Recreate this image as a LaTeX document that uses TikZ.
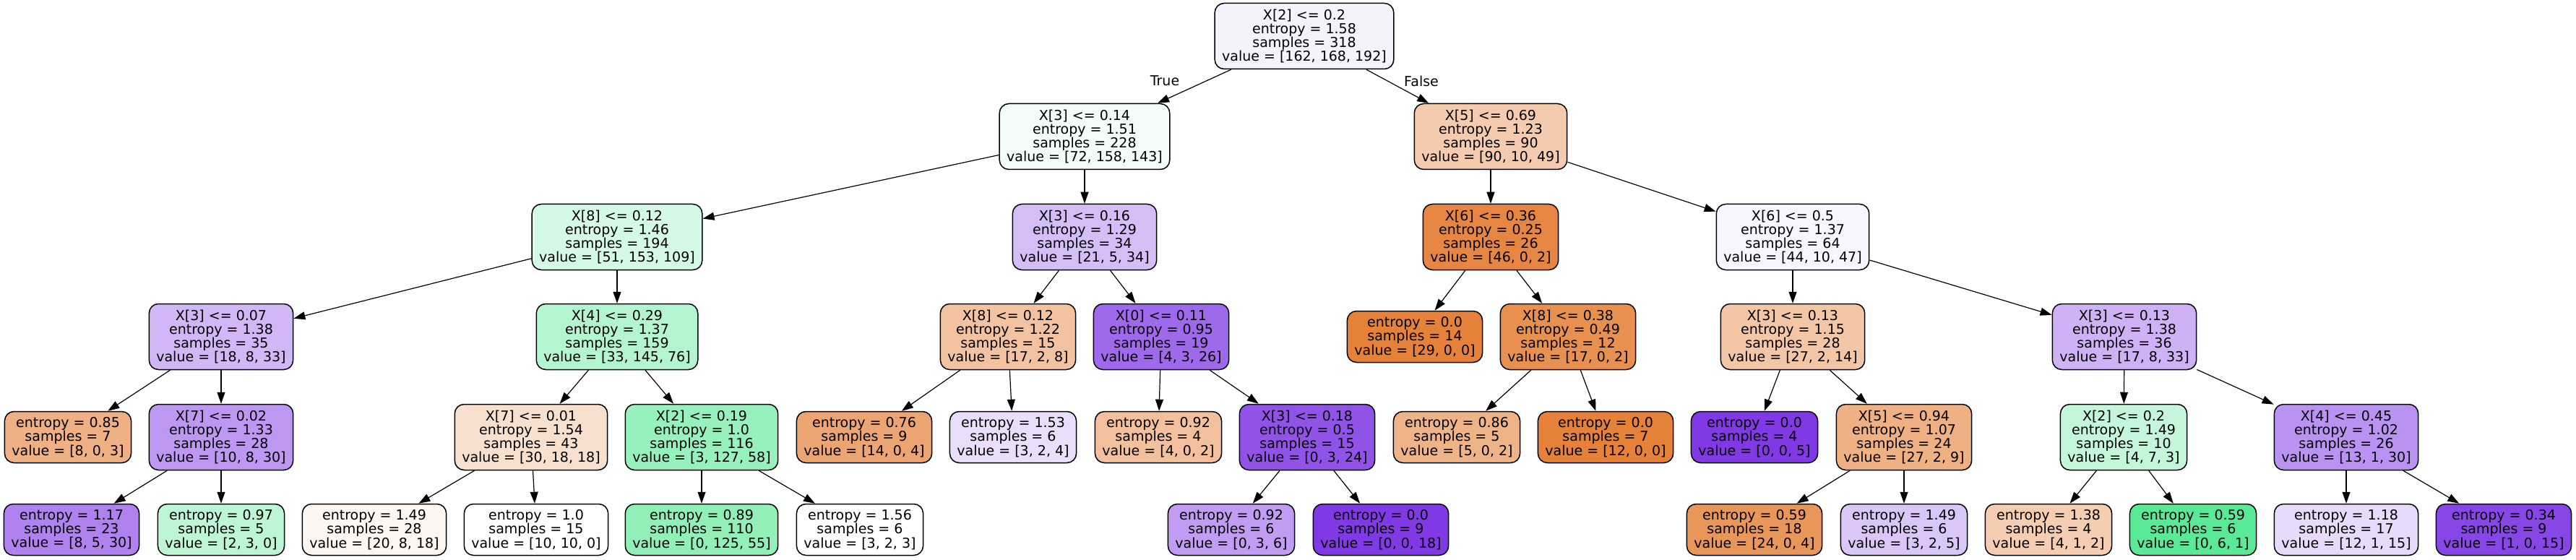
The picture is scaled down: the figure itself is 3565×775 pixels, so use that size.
\documentclass[tikz,border=0pt]{standalone}
\usepackage{fontspec}
\setmainfont{DejaVu Sans}
\usetikzlibrary{arrows.meta}
\newcommand\fnt{\fontsize{9.5pt}{9.6pt}\selectfont}
\definecolor{cr}{RGB}{246,242,253}
\definecolor{ca}{RGB}{242,253,247}
\definecolor{cb}{RGB}{244,203,174}
\definecolor{cc}{RGB}{212,249,228}
\definecolor{cd}{RGB}{213,189,246}
\definecolor{ce}{RGB}{230,134,66}
\definecolor{cf}{RGB}{248,245,254}
\definecolor{cg}{RGB}{209,183,246}
\definecolor{ch}{RGB}{178,245,206}
\definecolor{ci}{RGB}{243,195,161}
\definecolor{cj}{RGB}{159,105,235}
\definecolor{corange}{RGB}{229,129,57}
\definecolor{cpurple}{RGB}{129,57,229}
\definecolor{cl}{RGB}{232,144,80}
\definecolor{cm}{RGB}{243,198,166}
\definecolor{cn}{RGB}{206,178,245}
\definecolor{cga}{RGB}{239,176,131}
\definecolor{cgb}{RGB}{189,151,241}
\definecolor{cha}{RGB}{248,224,206}
\definecolor{chb}{RGB}{150,241,188}
\definecolor{cia}{RGB}{236,165,114}
\definecolor{cib}{RGB}{234,222,251}
\definecolor{cja}{RGB}{242,192,156}
\definecolor{cjb}{RGB}{145,82,232}
\definecolor{cla}{RGB}{239,179,136}
\definecolor{cmb}{RGB}{239,177,132}
\definecolor{cna}{RGB}{196,247,217}
\definecolor{cnb}{RGB}{186,146,241}
\definecolor{cgba}{RGB}{176,130,239}
\definecolor{cgbb}{RGB}{189,246,213}
\definecolor{chaa}{RGB}{253,246,241}
\definecolor{chba}{RGB}{144,240,184}
\definecolor{cjba}{RGB}{192,156,242}
\definecolor{cmba}{RGB}{233,150,90}
\definecolor{cmbb}{RGB}{219,198,248}
\definecolor{cnaa}{RGB}{245,205,176}
\definecolor{cnab}{RGB}{90,233,150}
\definecolor{cnba}{RGB}{231,218,250}
\definecolor{cnbb}{RGB}{137,70,231}
\tikzset{
  tn/.style={draw=black, line width=0.75pt, rounded corners=6.5pt, align=center,
    inner xsep=5pt, inner ysep=0pt, minimum height=45.5pt, font=\fnt},
  lf/.style={tn, minimum height=35.5pt},
  ed/.style={-{Triangle[length=8pt,width=5.5pt]}, line width=0.6pt},
  el/.style={font=\fnt, inner sep=0pt},
}
\begin{document}
\begin{tikzpicture}[x=0.5pt,y=-0.5pt]
\useasboundingbox (0,0) rectangle (3565,775);
\fill[white] (0,0) rectangle (3565,775);
% row 0
\node[tn,fill=cr] (r) at (1805,50) {X[2] <= 0.2\\entropy = 1.58\\samples = 318\\value = [162, 168, 192]};
% row 1
\node[tn,fill=ca] (a) at (1501,189) {X[3] <= 0.14\\entropy = 1.51\\samples = 228\\value = [72, 158, 143]};
\node[tn,fill=cb] (b) at (2063,189) {X[5] <= 0.69\\entropy = 1.23\\samples = 90\\value = [90, 10, 49]};
% row 2
\node[tn,fill=cc] (c) at (854,328) {X[8] <= 0.12\\entropy = 1.46\\samples = 194\\value = [51, 153, 109]};
\node[tn,fill=cd] (d) at (1501,328) {X[3] <= 0.16\\entropy = 1.29\\samples = 34\\value = [21, 5, 34]};
\node[tn,fill=ce] (e) at (2063,328) {X[6] <= 0.36\\entropy = 0.25\\samples = 26\\value = [46, 0, 2]};
\node[tn,fill=cf] (f) at (2481,328) {X[6] <= 0.5\\entropy = 1.37\\samples = 64\\value = [44, 10, 47]};
% row 3
\node[tn,fill=cg] (g) at (306,466) {X[3] <= 0.07\\entropy = 1.38\\samples = 35\\value = [18, 8, 33]};
\node[tn,fill=ch] (h) at (854,466) {X[4] <= 0.29\\entropy = 1.37\\samples = 159\\value = [33, 145, 76]};
\node[tn,fill=ci] (i) at (1395,466) {X[8] <= 0.12\\entropy = 1.22\\samples = 15\\value = [17, 2, 8]};
\node[tn,fill=cj] (j) at (1607,466) {X[0] <= 0.11\\entropy = 0.95\\samples = 19\\value = [4, 3, 26]};
\node[lf,fill=corange] (k) at (1958,466) {entropy = 0.0\\samples = 14\\value = [29, 0, 0]};
\node[tn,fill=cl] (l) at (2170,466) {X[8] <= 0.38\\entropy = 0.49\\samples = 12\\value = [17, 0, 2]};
\node[tn,fill=cm] (m) at (2481,466) {X[3] <= 0.13\\entropy = 1.15\\samples = 28\\value = [27, 2, 14]};
\node[tn,fill=cn] (n) at (2940,466) {X[3] <= 0.13\\entropy = 1.38\\samples = 36\\value = [17, 8, 33]};
% row 4
\node[lf,fill=cga] (ga) at (94,605) {entropy = 0.85\\samples = 7\\value = [8, 0, 3]};
\node[tn,fill=cgb] (gb) at (306,605) {X[7] <= 0.02\\entropy = 1.33\\samples = 28\\value = [10, 8, 30]};
\node[tn,fill=cha] (ha) at (735,605) {X[7] <= 0.01\\entropy = 1.54\\samples = 43\\value = [30, 18, 18]};
\node[tn,fill=chb] (hb) at (971,605) {X[2] <= 0.19\\entropy = 1.0\\samples = 116\\value = [3, 127, 58]};
\node[lf,fill=cia] (ia) at (1196,605) {entropy = 0.76\\samples = 9\\value = [14, 0, 4]};
\node[lf,fill=cib] (ib) at (1402,605) {entropy = 1.53\\samples = 6\\value = [3, 2, 4]};
\node[lf,fill=cja] (ja) at (1603,605) {entropy = 0.92\\samples = 4\\value = [4, 0, 2]};
\node[tn,fill=cjb] (jb) at (1809,605) {X[3] <= 0.18\\entropy = 0.5\\samples = 15\\value = [0, 3, 24]};
\node[lf,fill=cla] (la) at (2016,605) {entropy = 0.86\\samples = 5\\value = [5, 0, 2]};
\node[lf,fill=corange] (lb) at (2222,605) {entropy = 0.0\\samples = 7\\value = [12, 0, 0]};
\node[lf,fill=cpurple] (ma) at (2428,605) {entropy = 0.0\\samples = 4\\value = [0, 0, 5]};
\node[tn,fill=cmb] (mb) at (2635,605) {X[5] <= 0.94\\entropy = 1.07\\samples = 24\\value = [27, 2, 9]};
\node[tn,fill=cna] (na) at (2939,605) {X[2] <= 0.2\\entropy = 1.49\\samples = 10\\value = [4, 7, 3]};
\node[tn,fill=cnb] (nb) at (3247,605) {X[4] <= 0.45\\entropy = 1.02\\samples = 26\\value = [13, 1, 30]};
% row 5
\node[lf,fill=cgba] (gba) at (99,733) {entropy = 1.17\\samples = 23\\value = [8, 5, 30]};
\node[lf,fill=cgbb] (gbb) at (306,733) {entropy = 0.97\\samples = 5\\value = [2, 3, 0]};
\node[lf,fill=chaa] (haa) at (518,733) {entropy = 1.49\\samples = 28\\value = [20, 8, 18]};
\node[lf,fill=white] (hab) at (742,733) {entropy = 1.0\\samples = 15\\value = [10, 10, 0]};
\node[lf,fill=chba] (hba) at (971,733) {entropy = 0.89\\samples = 110\\value = [0, 125, 55]};
\node[lf,fill=white] (hbb) at (1190,733) {entropy = 1.56\\samples = 6\\value = [3, 2, 3]};
\node[lf,fill=cjba] (jba) at (1704,733) {entropy = 0.92\\samples = 6\\value = [0, 3, 6]};
\node[lf,fill=cpurple] (jbb) at (1911,733) {entropy = 0.0\\samples = 9\\value = [0, 0, 18]};
\node[lf,fill=cmba] (mba) at (2428,733) {entropy = 0.59\\samples = 18\\value = [24, 0, 4]};
\node[lf,fill=cmbb] (mbb) at (2635,733) {entropy = 1.49\\samples = 6\\value = [3, 2, 5]};
\node[lf,fill=cnaa] (naa) at (2835,733) {entropy = 1.38\\samples = 4\\value = [4, 1, 2]};
\node[lf,fill=cnab] (nab) at (3035,733) {entropy = 0.59\\samples = 6\\value = [0, 6, 1]};
\node[lf,fill=cnba] (nba) at (3247,733) {entropy = 1.18\\samples = 17\\value = [12, 1, 15]};
\node[lf,fill=cnbb] (nbb) at (3465,733) {entropy = 0.34\\samples = 9\\value = [1, 0, 15]};
% edges
\foreach \p/\c in {r/a,r/b,a/c,a/d,b/e,b/f,c/g,c/h,d/i,d/j,e/k,e/l,f/m,f/n,
  g/ga,g/gb,gb/gba,gb/gbb,h/ha,h/hb,ha/haa,ha/hab,hb/hba,hb/hbb,i/ia,i/ib,
  j/ja,j/jb,jb/jba,jb/jbb,l/la,l/lb,m/ma,m/mb,mb/mba,mb/mbb,n/na,n/nb,
  na/naa,na/nab,nb/nba,nb/nbb}
  \draw[ed] (\p) -- (\c);
\node[el] (tl) at (1612,112) {True};
\node[el] (fl) at (1967,112) {False};
\end{tikzpicture}
\end{document}
